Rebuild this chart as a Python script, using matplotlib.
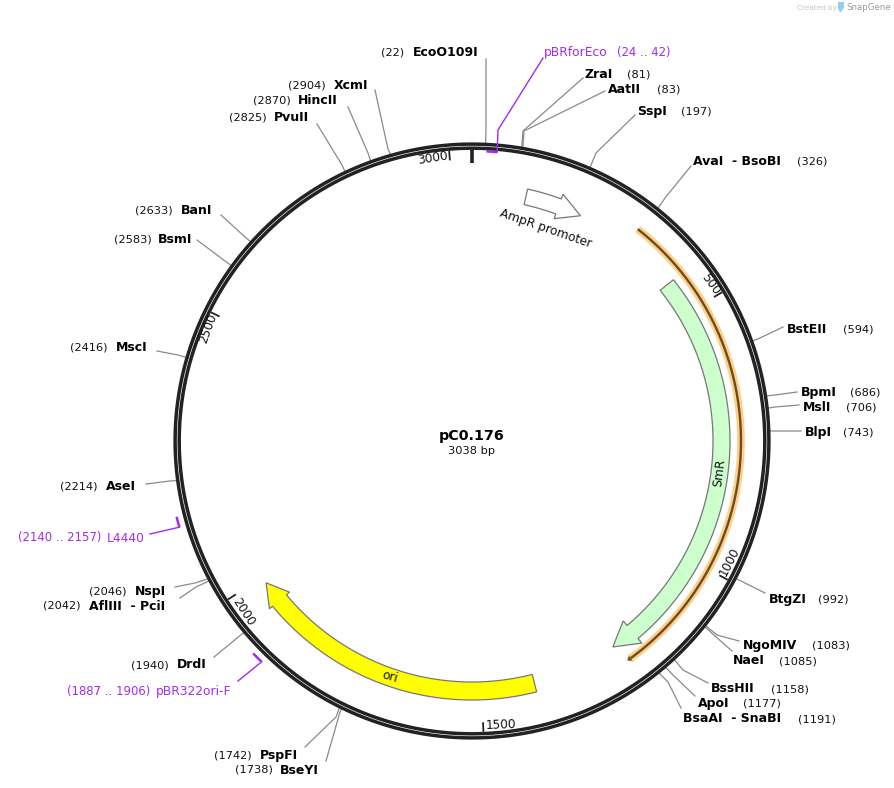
import numpy as np
import matplotlib
matplotlib.use("Agg")
import matplotlib.pyplot as plt
from matplotlib.patches import Polygon

plt.rcParams['font.family'] = ['DejaVu Sans']

# ---- data -----
plasmid_name = "pC0.176"
plasmid_size = 3038
tick_values = [500, 1000, 1500, 2000, 2500, 3000]

site_names = ["EcoO109I", "ZraI", "AatII", "SspI", "AvaI  - BsoBI", "BstEII", "BpmI", "MslI", "BlpI",
              "BtgZI", "NgoMIV", "NaeI", "BssHII", "ApoI", "BsaAI  - SnaBI", "BseYI", "PspFI", "DrdI",
              "AflIII  - PciI", "NspI", "AseI", "MscI", "BsmI", "BanI", "PvuII", "HincII", "XcmI"]
site_bp = [22, 81, 83, 197, 326, 594, 686, 706, 743,
           992, 1083, 1085, 1158, 1177, 1191, 1738, 1742, 1940,
           2042, 2046, 2214, 2416, 2583, 2633, 2825, 2870, 2904]

primer_names = ["pBRforEco", "pBR322ori-F", "L4440"]
primer_start = [24, 1887, 2140]
primer_end = [42, 1906, 2157]

feature_names = ["AmpR promoter", "SmR", "ori"]
feature_start = [105, 433, 1397]
feature_end = [217, 1229, 1987]
feature_colors = ["white", "#ccffcc", "#ffff00"]
orange_start, orange_end = 321, 1222

# ---- layout (pixels): name x, number x, y, leader end, elbow -----
site_layout = [
    (413, 381, 52, (486, 59), (486, 129)),
    (585, 627, 74, (583, 78), (523, 131)),
    (608, 657, 89, (605, 91), (524, 131)),
    (637, 681, 111, (635, 115), (596, 153)),
    (693, 797, 161, (691, 166), (665, 198)),
    (787, 843, 329, (783, 327), (760, 338)),
    (801, 850, 392, (797, 392), (775, 395)),
    (803, 846, 407, (799, 405), (775, 407)),
    (805, 843, 432, (801, 431), (775, 431)),
    (769, 818, 599, (765, 593), (741, 581)),
    (743, 812, 645, (739, 641), (717, 635)),
    (733, 779, 661, (732, 651), (715, 636)),
    (711, 771, 689, (708, 683), (683, 670)),
    (698, 743, 704, (695, 696), (675, 677)),
    (683, 798, 719, (681, 708), (668, 682)),
    (280, 235, 770, (326, 761), (340, 712)),
    (260, 214, 755, (305, 747), (336, 717)),
    (177, 131, 665, (214, 657), (242, 634)),
    (89, 43, 606, (180, 598), (196, 587)),
    (135, 89, 591, (175, 587), (195, 583)),
    (106, 60, 486, (146, 484), (170, 481)),
    (116, 70, 347, (157, 351), (178, 355)),
    (158, 114, 239, (197, 240), (225, 261)),
    (181, 135, 210, (221, 215), (245, 237)),
    (274, 229, 117, (317, 124), (342, 165)),
    (298, 253, 100, (348, 107), (368, 153)),
    (334, 288, 85, (375, 90), (388, 149)),
]
primer_layout = [
    (544, 617, 52, (543, 58), (498, 130), 290),
    (156, 67, 691, (238, 681), None, 305),
    (107, 18, 538, (150, 534), None, 305),
]
tick_layout = {500: (711, 284, -54), 1000: (730, 562, 63), 1500: (501, 725, 2),
               2000: (243, 612, -57), 2500: (208, 328, 70), 3000: (433, 158, 9)}

CX, CY = 472, 441
fig = plt.figure(figsize=(8.95, 7.88), dpi=100)
ax = fig.add_axes([0, 0, 1, 1])
ax.set_xlim(0, 895); ax.set_ylim(788, 0); ax.axis('off')


def pt(bp, r):
    a = 2 * np.pi * np.asarray(bp, float) / plasmid_size
    return CX + r * np.sin(a), CY - r * np.cos(a)


def arc(b0, b1, r, n=200):
    bs = np.linspace(b0, b1, n)
    return pt(bs, r)


# backbone
for r in (296.9, 292.8):
    x, y = arc(0, plasmid_size, r, 720)
    ax.plot(x, y, color='#222222', lw=2.5, zorder=3, solid_capstyle='butt')

# ticks
for t in tick_values:
    x, y = zip(pt(t, 281.5), pt(t, 291))
    ax.plot(x, y, color='#222222', lw=1.3, zorder=3, solid_capstyle='butt')
    lx, ly, rot = tick_layout[t]
    ax.text(lx, ly, str(t), fontsize=8.7, rotation=rot, ha='center', va='center',
            rotation_mode='anchor', color='#111111')
x, y = zip(pt(0, 278), pt(0, 291))
ax.plot(x, y, color='#222222', lw=2.6, zorder=3, solid_capstyle='butt')


# arrow features
def feature(b0, b1, head, r0, r1, hr0, hr1, color, edge='#777777'):
    xi, yi = arc(b0, b1 - head, r0)
    xo, yo = arc(b1 - head, b0, r1)
    h1, h2, tip = pt(b1 - head, hr0), pt(b1 - head, hr1), pt(b1, (r0 + r1) / 2)
    pts = list(zip(xi, yi)) + [h1, tip, h2] + list(zip(xo, yo))
    ax.add_patch(Polygon(pts, closed=True, fc=color, ec=edge, lw=0.9, zorder=2))


feature(feature_start[0], feature_end[0], 46, 242, 258, 237, 263, feature_colors[0])
feature(feature_start[1], feature_end[1], 48, 241, 258, 235, 264, feature_colors[1])
feature(feature_start[2], feature_end[2], 43, 241, 259, 237, 263, feature_colors[2])

ax.text(546, 229, feature_names[0], fontsize=8.7, rotation=-19, ha='center', va='center', color='#111111')
ax.text(719, 473, feature_names[1], fontsize=8.7, rotation=83, ha='center', va='center', color='#111111')
ax.text(390, 677, feature_names[2], fontsize=8.7, rotation=-16, ha='center', va='center', color='#111111')

# orange highlighted line
x, y = arc(orange_start, orange_end - 8, 269)
ax.plot(x, y, color='#fdd08a', lw=5.5, zorder=2, solid_capstyle='butt')
ax.plot(x, y, color='#6e4a1e', lw=1.7, zorder=2.5, solid_capstyle='butt')
hd = [pt(orange_end - 10, 263.5), pt(orange_end, 269), pt(orange_end - 10, 274.5)]
ax.add_patch(Polygon(hd, closed=True, fc='#fdd08a', ec='none', zorder=2))
hd = [pt(orange_end - 8, 266), pt(orange_end - 1, 269), pt(orange_end - 8, 272)]
ax.add_patch(Polygon(hd, closed=True, fc='#6e4a1e', ec='none', zorder=2.5))

# restriction sites
for name, bp, (nx, numx, ly, end, elbow) in zip(site_names, site_bp, site_layout):
    s = pt(bp, 298)
    ax.plot([s[0], elbow[0], end[0]], [s[1], elbow[1], end[1]], color='#8a8a8a', lw=0.9, zorder=1)
    ax.text(nx, ly, name, fontsize=9, fontweight='bold', ha='left', va='center', color='black')
    ax.text(numx, ly, f"({bp})", fontsize=8.2, ha='left', va='center', color='#111111')

# primers
PURPLE = '#a12bf0'
for name, b0, b1, (nx, numx, ly, end, elbow, r) in zip(primer_names, primer_start, primer_end, primer_layout):
    x, y = arc(b0, b1, r, 30)
    ax.plot(x, y, color=PURPLE, lw=1.8, zorder=4, solid_capstyle='butt')
    sx, sy = pt(b1 if r < 295 else b0, r)
    if elbow is None:
        xs, ys = [sx, end[0]], [sy, end[1]]
    else:
        xs, ys = [sx, elbow[0], end[0]], [sy, elbow[1], end[1]]
    ax.plot(xs, ys, color=PURPLE, lw=1.0, zorder=4)
    ax.text(nx, ly, name, fontsize=8.8, ha='left', va='center', color=PURPLE)
    ax.text(numx, ly, f"({b0} .. {b1})", fontsize=8.4, ha='left', va='center', color=PURPLE)

# centre
ax.text(472, 436, plasmid_name, fontsize=10.3, fontweight='bold', ha='center', va='center', color='black')
ax.text(472, 451, f"{plasmid_size} bp", fontsize=8.2, ha='center', va='center', color='#111111')

# watermark
ax.text(797, 7.5, "Created by", fontsize=5.2, ha='left', va='center', color='#c4c4c4')
ax.text(846, 7.5, "SnapGene", fontsize=6.2, ha='left', va='center', color='#9a9a9a')
ax.add_patch(Polygon([(838, 2), (844, 2), (844, 8), (840, 13), (838, 8)], closed=True, fc='#8fd0ee', ec='none'))

fig.savefig("out.png", dpi=100)
